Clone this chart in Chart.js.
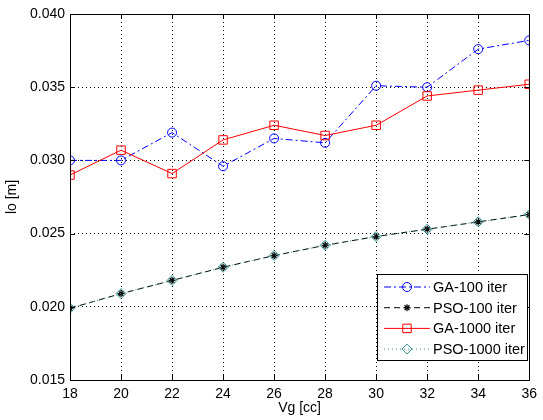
<!DOCTYPE html>
<html>
<head>
<meta charset="utf-8">
<script src="https://cdn.jsdelivr.net/npm/chart.js@4"></script>
<style>
  html, body { margin: 0; padding: 0; background: #fff; }
  #wrap { width: 543px; height: 420px; }
</style>
</head>
<body>
<div id="wrap"><canvas id="chart" width="543" height="420"></canvas></div>
<script>
// data
const vg = [18, 20, 22, 24, 26, 28, 30, 32, 34, 36];
const ga100 = [0.0300, 0.0300, 0.0319, 0.0296, 0.0315, 0.0312, 0.0351, 0.0350, 0.0376, 0.0382];
const pso100 = [0.0199, 0.0209, 0.0218, 0.0227, 0.0235, 0.0242, 0.0248, 0.0253, 0.0258, 0.0263];
const ga1000 = [0.0290, 0.0307, 0.0291, 0.0314, 0.0324, 0.0317, 0.0324, 0.0344, 0.0348, 0.0352];
const pso1000 = [0.0199, 0.0209, 0.0218, 0.0227, 0.0235, 0.0242, 0.0248, 0.0253, 0.0258, 0.0263];
const seriesNames = ['GA-100 iter', 'PSO-100 iter', 'GA-1000 iter', 'PSO-1000 iter'];
const yTicks = [0.015, 0.020, 0.025, 0.030, 0.035, 0.040];

const FONT = 'Liberation Sans, Arial, Helvetica, sans-serif';
const toPts = arr => arr.map((v, i) => ({ x: vg[i], y: v }));

// box around the axes + inward ticks, like matlab
const boxPlugin = {
  id: 'box',
  afterDatasetsDraw(chart) {
    const { ctx, chartArea: a, scales } = chart;
    ctx.save();
    ctx.strokeStyle = '#000';
    ctx.lineWidth = 1;
    ctx.setLineDash([]);
    ctx.strokeRect(Math.round(a.left) + 0.5, Math.round(a.top) + 0.5,
      Math.round(a.right - a.left), Math.round(a.bottom - a.top));
    ctx.beginPath();
    vg.forEach(v => {
      const x = Math.round(scales.x.getPixelForValue(v)) + 0.5;
      ctx.moveTo(x, a.bottom); ctx.lineTo(x, a.bottom - 5);
      ctx.moveTo(x, a.top); ctx.lineTo(x, a.top + 5);
    });
    yTicks.forEach(v => {
      const y = Math.round(scales.y.getPixelForValue(v)) + 0.5;
      ctx.moveTo(a.left, y); ctx.lineTo(a.left + 5, y);
      ctx.moveTo(a.right, y); ctx.lineTo(a.right - 5, y);
    });
    ctx.stroke();
    ctx.restore();
  }
};

// matlab style legend: line sample with the marker in the middle
const legendPlugin = {
  id: 'mlegend',
  afterDraw(chart) {
    const { ctx } = chart;
    const bx = 377, by = 274, bw = 150, bh = 86;
    ctx.save();
    ctx.fillStyle = '#fff';
    ctx.fillRect(bx, by, bw, bh);
    ctx.strokeStyle = '#000';
    ctx.lineWidth = 1;
    ctx.strokeRect(bx + 0.5, by + 0.5, bw, bh);
    ctx.font = '14.5px ' + FONT;
    ctx.textBaseline = 'middle';
    chart.data.datasets.forEach((ds, i) => {
      const y = by + 13 + i * 20.7;
      ctx.strokeStyle = ds.borderColor;
      ctx.lineWidth = 1;
      ctx.setLineDash(ds.borderDash || []);
      ctx.beginPath();
      ctx.moveTo(384, y); ctx.lineTo(430, y);
      ctx.stroke();
      ctx.setLineDash([]);
      ctx.fillStyle = ds.pointBackgroundColor;
      ctx.strokeStyle = ds.pointBorderColor;
      ctx.lineWidth = ds.pointBorderWidth;
      Chart.helpers.drawPoint(ctx, {
        pointStyle: ds.pointStyle, radius: ds.pointRadius, borderWidth: ds.pointBorderWidth, rotation: 0
      }, 407, y);
      ctx.fillStyle = '#000';
      ctx.fillText(ds.label, 433, y + 1);
    });
    ctx.restore();
  }
};

const gridOpts = { color: '#000', drawTicks: false, lineWidth: 1 };
const borderOpts = { display: false, dash: [1, 3] };

new Chart(document.getElementById('chart'), {
  type: 'line',
  data: {
    datasets: [
      {
        label: seriesNames[0], data: toPts(ga100), order: 3,
        borderColor: '#0000ff', borderWidth: 1, borderDash: [7, 3, 2, 3],
        pointStyle: 'circle', pointRadius: 4.5, pointBorderColor: '#0000ff',
        pointBackgroundColor: 'rgba(0,0,0,0)', pointBorderWidth: 1, tension: 0
      },
      {
        label: seriesNames[1], data: toPts(pso100), order: 2,
        borderColor: '#000000', borderWidth: 1, borderDash: [6, 4],
        pointStyle: 'star', pointRadius: 3.5, pointBorderColor: '#000000',
        pointBackgroundColor: '#000000', pointBorderWidth: 1.2, tension: 0
      },
      {
        label: seriesNames[2], data: toPts(ga1000), order: 1,
        borderColor: '#ff0000', borderWidth: 1,
        pointStyle: 'rect', pointRadius: 6, pointBorderColor: '#ff0000',
        pointBackgroundColor: 'rgba(0,0,0,0)', pointBorderWidth: 1, tension: 0
      },
      {
        label: seriesNames[3], data: toPts(pso1000), order: 0,
        borderColor: '#2f8f8f', borderWidth: 1, borderDash: [1, 3],
        pointStyle: 'rectRot', pointRadius: 5, pointBorderColor: '#2f8f8f',
        pointBackgroundColor: 'rgba(0,0,0,0)', pointBorderWidth: 1, tension: 0
      }
    ]
  },
  options: {
    responsive: false,
    animation: false,
    layout: { padding: { left: 0, top: 14, right: 8, bottom: 0 } },
    plugins: { legend: { display: false }, tooltip: { enabled: false } },
    scales: {
      x: {
        type: 'linear', min: 18, max: 36,
        afterFit: s => { s.height = 40; },
        afterBuildTicks: s => { s.ticks = vg.map(v => ({ value: v })); },
        grid: gridOpts,
        border: borderOpts,
        ticks: { color: '#000', padding: 6, font: { family: FONT, size: 14 }, maxRotation: 0 },
        title: { display: true, text: 'Vg [cc]', color: '#000', padding: 3, font: { family: FONT, size: 14 } }
      },
      y: {
        min: 0.015, max: 0.040,
        afterFit: s => { s.width = 70; },
        afterBuildTicks: s => { s.ticks = yTicks.map(v => ({ value: v })); },
        grid: gridOpts,
        border: borderOpts,
        ticks: { color: '#000', padding: 5, font: { family: FONT, size: 14 },
          callback: v => v.toFixed(3) },
        title: { display: true, text: 'lo [m]', color: '#000', padding: 4, font: { family: FONT, size: 14 } }
      }
    }
  },
  plugins: [boxPlugin, legendPlugin]
});
</script>
</body>
</html>
